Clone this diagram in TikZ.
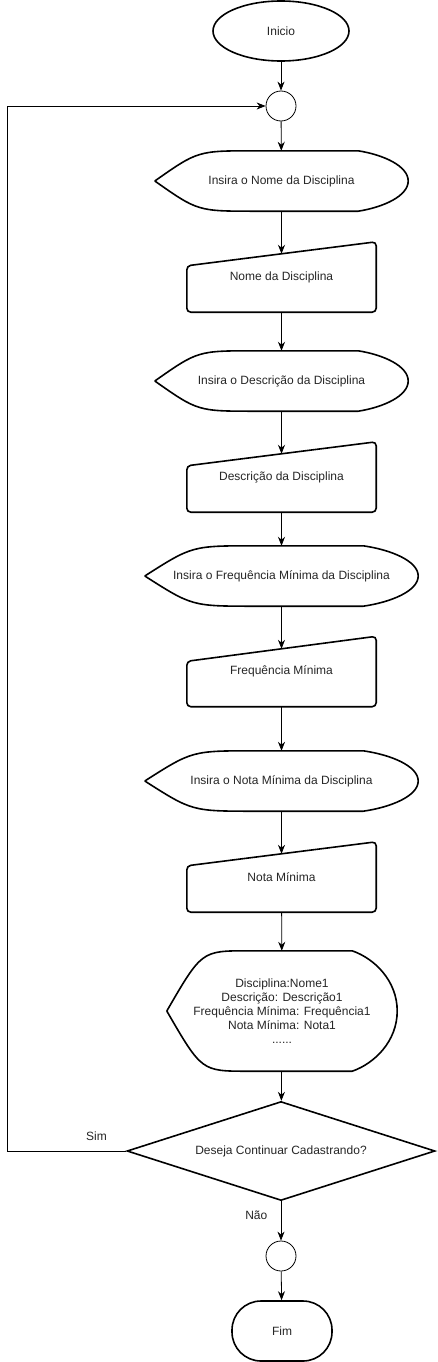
\documentclass[tikz,border=0pt]{standalone}
\usepackage{fontspec}
\setmainfont{Liberation Sans}
\usetikzlibrary{shapes.geometric,positioning,calc,arrows.meta}
\tikzset{terminal/.style={ellipse,draw,line width=1.6pt,minimum width=136pt,minimum height=60pt},
junction/.style={circle,draw,line width=0.8pt,minimum size=30pt,inner sep=0pt},
showbox/.style={rectangle,inner sep=0pt,minimum height=60pt},
inbox/.style={rectangle,inner sep=0pt,minimum width=189pt,minimum height=70pt},
decision/.style={diamond,draw,line width=1.6pt,aspect=3.1,inner sep=0pt,
minimum width=308pt,minimum height=99pt},
fimbox/.style={rectangle,draw,rounded corners=29pt,line width=1.6pt,
minimum width=100pt,minimum height=60pt},
outline/.style={line width=1.6pt},
flow/.style={line width=0.8pt},
every node/.style={font=\fontsize{12}{14}\selectfont,text=black!85},
>={Stealth[length=9pt,width=7pt]}}

% display symbol round a showbox node: #1 name, #2 left part, #3 right part
\newcommand{\dispshape}[3]{
  \draw[outline] (#1.west) .. controls ($(#1.north west)+(#2*0.43,0)$) .. ($(#1.north west)+(#2,0)$)
    -- ($(#1.north east)+(-#3,0)$)
    .. controls ($(#1.north east)!0.13!(#1.east)+(-#3/2,0)$) and ($(#1.east)!0.5!(#1.north east)$) .. (#1.east)
    .. controls ($(#1.east)!0.5!(#1.south east)$) and ($(#1.south east)!0.13!(#1.east)+(-#3/2,0)$) .. ($(#1.south east)+(-#3,0)$)
    -- ($(#1.south west)+(#2,0)$) .. controls ($(#1.south west)+(#2*0.43,0)$) .. (#1.west);
}
% manual input round an inbox node: #1 name, #2 slant
\newcommand{\inpshape}[2]{
  \draw[outline,rounded corners=4pt] (#1.south west) -- (#1.south east) -- (#1.north east)
    -- ($(#1.north west)+(0,#2)$) -- cycle;
  \coordinate (#1-in) at ($(#1.north)+(0,#2/2)$);
}

\begin{document}
\begin{tikzpicture}[x=1pt,y=-1pt]
  \fill[white] (0,0) rectangle (437,1362);
  \useasboundingbox (0,0) rectangle (437,1362);

  \node (ini) [terminal] at (281,31) {Inicio};
  \node (c1) [junction] at (281,106) {};

  \node (d1) [showbox,minimum width=253pt] at (281.5,181) {Insira o Nome da Disciplina};
  \node (m1) [inbox] at (281.5,277) {Nome da Disciplina};
  \node (d2) [showbox,minimum width=253pt] at (281.5,381) {Insira o Descrição da Disciplina};
  \node (m2) [inbox] at (281.5,477) {Descrição da Disciplina};
  \node (d3) [showbox,minimum width=273pt] at (281.5,576) {Insira o Frequência Mínima da Disciplina};
  \node (m3) [inbox] at (281.5,671.5) {Frequência Mínima};
  \node (d4) [showbox,minimum width=273pt] at (281.5,781) {Insira o Nota Mínima da Disciplina};
  \node (m4) [inbox] at (281.5,877) {Nota Mínima};
  \node (d5) [showbox,minimum width=230pt,minimum height=120pt,align=center] at (282,1011)
    {Disciplina:Nome1\\Descrição: Descrição1\\Frequência Mínima: Frequência1\\Nota Mínima: Nota1\\......};

  \dispshape{d1}{100}{50}
  \dispshape{d2}{100}{50}
  \dispshape{d3}{110}{55}
  \dispshape{d4}{110}{55}
  \dispshape{d5}{81}{45}
  \inpshape{m1}{24}
  \inpshape{m2}{24}
  \inpshape{m3}{25}
  \inpshape{m4}{24}

  \node (q) [decision] at (281,1151) {Deseja Continuar Cadastrando?};
  \node (c2) [junction] at (281,1256) {};
  \node (fim) [fimbox] at (282,1331) {Fim};

  \draw[flow,->] (ini) -- (c1);
  \draw[flow,->] (c1) -- (d1);
  \draw[flow,->] (d1) -- (m1-in);
  \draw[flow,->] (m1) -- (d2);
  \draw[flow,->] (d2) -- (m2-in);
  \draw[flow,->] (m2) -- (d3);
  \draw[flow,->] (d3) -- (m3-in);
  \draw[flow,->] (m3) -- (d4);
  \draw[flow,->] (d4) -- (m4-in);
  \draw[flow,->] (m4) -- (d5);
  \draw[flow,->] (d5) -- (q);
  \draw[flow,->] (q.south) -- node[pos=0.36,left=10pt] {Não} (c2);
  \draw[flow,->] (c2) -- (fim);
  \draw[flow,->] (q.west) -- node[pos=0.25,above=7pt] {Sim} ++(-119,0) |- (c1.west);
\end{tikzpicture}
\end{document}
